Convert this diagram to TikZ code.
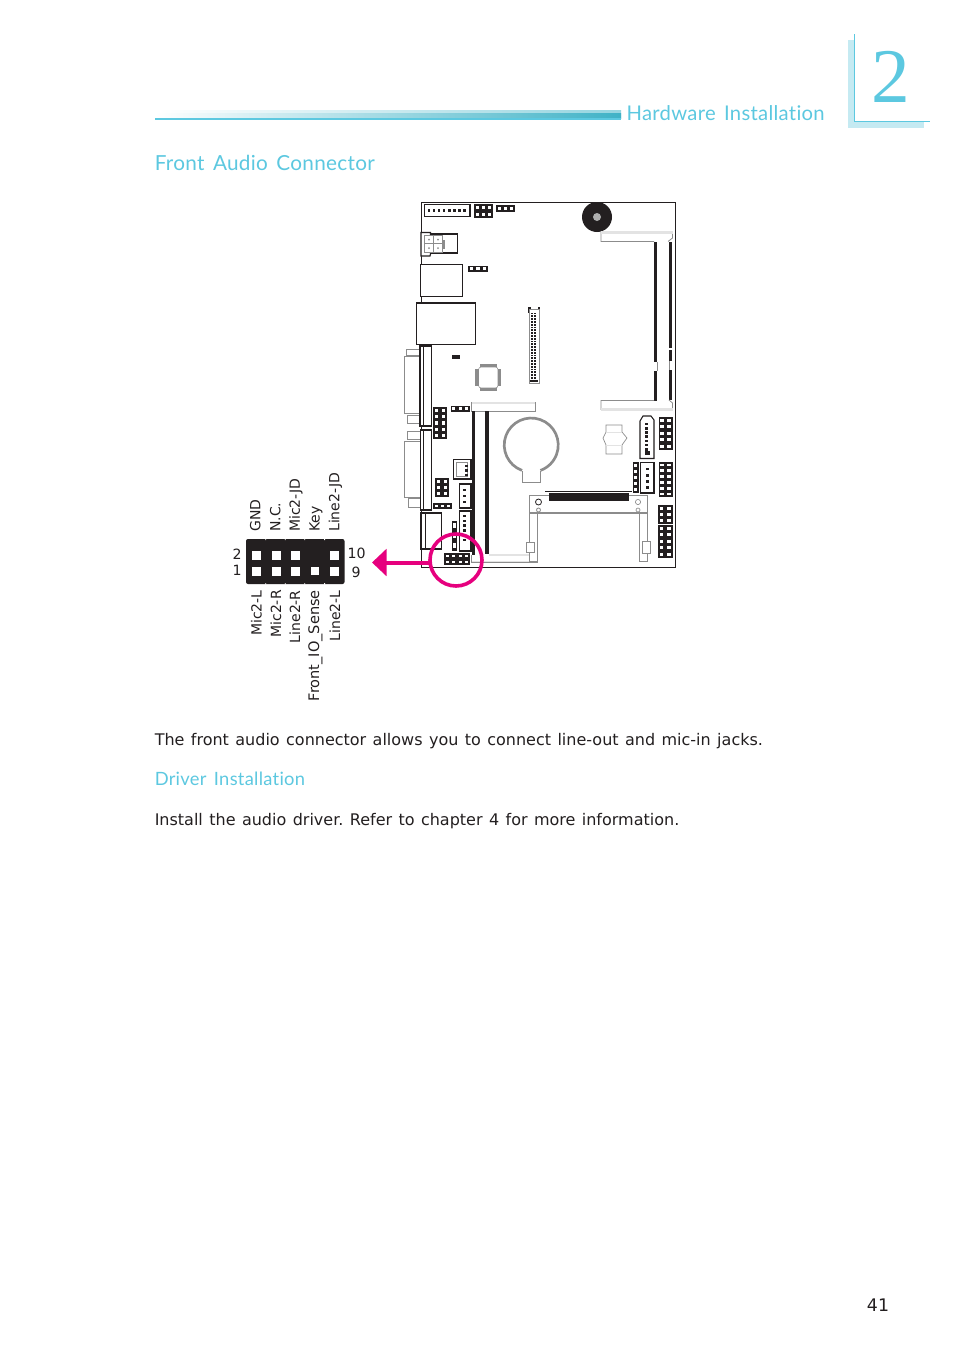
\documentclass[tikz,border=0pt]{standalone}
\usepackage{fontspec}
\setmainfont{DejaVu Sans}
\newfontfamily\headfont[Ligatures=NoCommon,LetterSpace=1.5,WordSpace=1.5]{Lato}
\newfontfamily\numfont{Liberation Serif}
\newfontfamily\bodyfont[WordSpace=1.26]{DejaVu Sans}
\usetikzlibrary{arrows.meta}
\frenchspacing
\definecolor{headc}{HTML}{5CC8E0}
\definecolor{shadec}{HTML}{C5EAF2}
\definecolor{barc}{HTML}{3FB2C6}
\definecolor{pink}{HTML}{E6007E}
\definecolor{ink}{HTML}{231F20}
\definecolor{pale}{HTML}{E3E3E3}
\definecolor{midg}{HTML}{8C8C8C}
\newcommand{\hdr}[6]{% x y w h cols rows
  \fill[ink] (#1,#2) rectangle ++(#3,#4);
  \pgfmathsetmacro{\pw}{#3/#5}\pgfmathsetmacro{\ph}{#4/#6}
  \foreach \ci in {1,...,#5}{\foreach \ri in {1,...,#6}{
    \pgfmathsetmacro{\hx}{#1+(\ci-0.5)*\pw}\pgfmathsetmacro{\hy}{#2+(\ri-0.5)*\ph}
    \fill[white] (\hx-0.24*\pw,\hy-0.24*\ph) rectangle (\hx+0.24*\pw,\hy+0.24*\ph);}}}
\newcommand{\pins}[4]{% x y0 n step
  \foreach \pi in {1,...,#3}{\pgfmathsetmacro{\py}{#2+(\pi-1)*#4}
    \fill[ink] (#1-1.3,\py-1.3) rectangle (#1+1.3,\py+1.3);}}
\tikzset{
  brd/.style={draw=ink,line width=0.9pt,fill=white},
  gbrd/.style={draw=midg,line width=0.6pt,fill=white},
  pbrd/.style={draw=pale,line width=0.9pt,fill=white},
  body/.style={anchor=base west,inner sep=0pt,font=\bodyfont\fontsize{12}{15}\selectfont,text=ink},
  head/.style={anchor=base west,inner sep=0pt,text=headc},
  pinlab/.style={inner sep=0pt,rotate=90,font=\fontsize{10.5}{12}\selectfont,text=ink},
  numlab/.style={inner sep=0pt,font=\fontsize{10.6}{12}\selectfont,text=ink}
}
\begin{document}
\begin{tikzpicture}[x=0.75pt,y=-0.75pt]
\useasboundingbox[fill=white] (0,0) rectangle (954,1354);
% chapter header
\shade[left color=white,right color=barc!55] (155,110) rectangle (621,118);
\shade[left color=white,right color=barc] (155,113) rectangle (621,118);
\fill[headc] (155,118) rectangle (621,120);
\fill[shadec] (848,40) rectangle (854,128);
\fill[shadec] (848,122) rectangle (924,128);
\draw[headc,line width=0.9pt] (854.5,34) -- (854.5,121.5) -- (930,121.5);
\node[inner sep=0pt,anchor=base,text=headc,font=\numfont\fontsize{58}{60}\selectfont] (chapnum) at (890.5,102) {2};
\node[head,font=\headfont\fontsize{15.2}{18}\selectfont] (hw) at (626.3,120) {Hardware Installation};
\node[head,font=\headfont\fontsize{15.55}{18}\selectfont] (fac) at (154.5,170) {Front Audio Connector};
% board outline
\draw[ink,line width=0.8pt] (421.5,567.5) -- (421.5,202.5) -- (675.5,202.5) -- (675.5,567.5) -- cycle;
% top-left connectors
\draw[brd] (424.5,204.5) rectangle (470,216.5);
\foreach \bx in {427.5,432.5,437.5,442.5,448,453,458,463}{\fill[ink] (\bx,208.5) rectangle ++(2.6,3);}
\hdr{474}{204}{18.5}{14}{3}{2}
\hdr{496}{205}{19}{6.5}{3}{1}
\draw[brd] (430,234) rectangle (457.5,253);
\draw[brd,fill=white] (421,232.5) -- (430.5,232.5) -- (430.5,234) -- (430.5,254) -- (430,256) -- (421,256) -- cycle;
\draw[gbrd] (424,235) rectangle (442.5,252);
\draw[gbrd] (424,243.5) -- (442.5,243.5) (433,235) -- (433,252);
\foreach \qx/\qy in {429/239.5,438/239.5,429/248,438/248}{\fill[midg] (\qx,\qy) circle (1);}
\fill[midg] (442,240) rectangle (445,249);
\hdr{468}{265.5}{20}{6}{3}{1}
\draw[brd] (420.8,264.5) rectangle (462.5,296.5);
\draw[brd] (416.5,303) rectangle (475.5,344.5);
% DB connectors
\foreach \ax/\ay/\bx/\by in {406/349/420/355,404.5/356/420/413,407/415/420/423,407/431/420/439,404.5/441/420/497,408.5/498/420/507}{
  \draw[midg,line width=0.5pt,fill=white] (\ax,\ay) rectangle (\bx,\by);}
\draw[brd] (420,346) rectangle (431.5,426);
\draw[ink,line width=0.7pt] (423.5,346) -- (423.5,426);
\draw[brd] (420.5,430) rectangle (431.5,510);
\draw[ink,line width=0.7pt] (423.5,430) -- (423.5,510);
\fill[ink] (452,355) rectangle (460,358.5);
% chip
\fill[midg] (475,369) rectangle (478.5,386);
\fill[midg] (498,369) rectangle (501,386);
\fill[midg] (480,364) rectangle (497,367);
\fill[midg] (480,388) rectangle (497,391);
\draw[midg,line width=0.4pt,rounded corners=2pt] (478.5,367) rectangle (498,388);
% IDE header
\fill[ink] (528,306.5) rectangle (530.5,313);
\fill[ink] (537.5,306.5) rectangle (540,313);
\fill[ink] (528,308.5) rectangle (540,310);
\draw[gbrd] (529,309) rectangle (539,383);
\foreach \ri in {0,...,23}{\pgfmathsetmacro{\iy}{312.5+\ri*2.8}
  \fill[ink] (531,\iy) rectangle ++(1.8,1.8); \fill[ink] (534,\iy) rectangle ++(1.8,1.8);}
\fill[ink] (530,379.5) rectangle (538,381.5);
% lower-left DIMM
\draw[gbrd] (471.5,411.5) -- (471.5,402.5) -- (535.5,402.5) -- (535.5,411.5) -- cycle;
\draw[pale,line width=1pt] (472,403) -- (535,403);
\fill[ink] (472,411) rectangle (475,555);
\fill[ink] (485,411) rectangle (489,554);
\draw[midg,line width=0.5pt] (471.5,554.5) -- (471.5,562.5) -- (537,562.5) -- (537,554);
\draw[pale,line width=1.5pt] (489,554.5) -- (530,554.5);
\draw[pale,line width=1pt] (472,561.5) -- (537,561.5);
% small left headers
\hdr{433}{407}{14}{32}{2}{5}
\hdr{450.5}{406}{19.5}{5.5}{3}{1}
\draw[brd,line width=1pt] (453.5,459.5) rectangle (471,479);
\draw[gbrd] (456,462) rectangle (467,476);
\pins{466.5}{466}{3}{4.5}
\hdr{435}{478}{14}{19}{2}{3}
\draw[brd] (459.5,484) rectangle (471,508);
\pins{464.5}{490}{3}{6}
\hdr{433}{503}{19}{6}{3}{1}
\draw[brd] (421,513) rectangle (441.5,549);
\draw[ink,line width=0.7pt] (425.5,513) -- (425.5,549);
\draw[ink,line width=0.7pt] (421.5,549) -- (421.5,567);
\draw[brd] (459.5,511) rectangle (471,551);
\pins{464.5}{516}{6}{4.8}
\hdr{451.5}{520.5}{5.5}{30.5}{1}{3}
\hdr{444}{553}{26}{12}{4}{2}
% battery
\draw[midg,line width=2pt] (522,470.4) arc[start angle=110,delta angle=320,radius=27];
\draw[midg,line width=0.6pt] (522,470.5) -- (522,482) -- (540,482) -- (540,470.5);
% CF socket
\draw[midg,line width=0.6pt] (529.5,495) rectangle (647.5,513);
\draw[ink,line width=0.6pt] (545,491) -- (632,491);
\fill[ink] (548.5,492.5) rectangle (629,501);
\draw[midg,line width=1.2pt] (530,513) -- (647,513);
\draw[midg,line width=0.6pt] (529.5,513) -- (529.5,561) -- (537.5,561) -- (537.5,513);
\draw[midg,line width=0.6pt] (639,513) -- (639,561) -- (647.5,561) -- (647.5,513);
\draw[ink,line width=0.6pt] (538.5,502) circle (3);
\draw[midg,line width=0.6pt] (538.5,510) circle (2);
\draw[midg,line width=0.5pt] (638,502) circle (2.6);
\draw[midg,line width=0.5pt] (638,510) circle (2);
\draw[midg,line width=0.6pt,fill=white] (526.5,542) rectangle (534,552.5);
\draw[midg,line width=0.6pt,fill=white] (642.5,541.5) rectangle (650.5,553.5);
% top-right: buzzer and DIMM
\fill[ink] (597,217) circle (15);
\fill[midg!70] (597,217) circle (4);
\draw[midg,line width=0.6pt] (601,232) -- (601,241.5) -- (654,241.5) (668,241.5) -- (672.5,238) -- (672.5,232);
\draw[pale,line width=1.6pt] (601,232.5) -- (672.5,232.5);
\fill[ink] (654,242) rectangle (657,362);
\fill[ink] (654,371) rectangle (657,401);
\fill[ink] (669,242) rectangle (672,348);
\fill[ink] (669,349.5) rectangle (672,361);
\fill[ink] (669,370) rectangle (672,400);
\draw[midg,line width=0.5pt] (657,362) -- (657,371) (669,361) -- (669,370);
\draw[midg,line width=0.6pt] (654,400.5) -- (601,400.5) -- (601,409.5) -- (672.5,409.5) -- (672.5,403) -- (669,400);
\draw[pale,line width=1.6pt] (601,409.5) -- (672.5,409.5);
% right-hand connectors
\draw[midg,line width=0.5pt] (606,425) -- (622,425) -- (622,432) -- (627,438) -- (622,445) -- (622,454) -- (606,454) -- (606,445) -- (603,438) -- (606,432) -- cycle;
\draw[pale,line width=0.6pt] (606,432) -- (622,432) (606,445) -- (622,445);
\draw[ink,line width=0.8pt,fill=white] (640,421) -- (643,416) -- (651,416) -- (654,420) -- (654,458.5) -- (640,458.5) -- cycle;
\pins{646.5}{424}{7}{4.2}
\fill[ink] (645,451) rectangle (650,455);
\hdr{658.5}{417}{14}{32.5}{2}{5}
\hdr{632.5}{462}{6.5}{31}{1}{5}
\draw[ink,line width=1pt,fill=white] (640.5,462.5) rectangle (654,493);
\pins{647.5}{469}{4}{6.2}
\hdr{658.5}{462}{14}{35}{2}{6}
\hdr{658}{505}{14.5}{19}{2}{3}
\hdr{658}{525}{14.5}{32.5}{2}{5}
% pink marker
\draw[pink,line width=2.7pt] (456,560) circle (26);
\coordinate (mk) at (430,562.5);
\coordinate (tipc) at (372,562.5);
\draw[pink,line width=3pt,-{Triangle[length=14.5pt*0.75,width=26.5pt*0.75]}] (mk) -- (tipc);
% pin block
\fill[ink,rounded corners=1.5pt] (246,539) rectangle (344.5,584);
\foreach \hx in {256.7,276,295.6,334.5}{\fill[white] (\hx-4.5,550.5) rectangle (\hx+4.5,559.5);}
\foreach \hx in {256.7,276,295.6,334.5}{\fill[white] (\hx-4.5,566.5) rectangle (\hx+4.5,575.5);}
\fill[white] (310.7,566.8) rectangle (319,575.2);
\foreach \nx in {265.8,285.3,304.8,324.6}{\fill[white] (\nx-0.4,538.5) rectangle (\nx+0.4,540) (\nx-0.4,583) rectangle (\nx+0.4,584.5);}
% pin labels
\node[pinlab,anchor=west] (gnd) at (255.3,532) {GND};
\node[pinlab,anchor=west] (nc) at (275.3,532) {N.C.};
\node[pinlab,anchor=west] (mjd) at (296,532) {Mic2-JD};
\node[pinlab,anchor=west] (key) at (316,532) {Key};
\node[pinlab,anchor=west] (ljd) at (335.5,532) {Line2-JD};
\node[pinlab,anchor=east] (ml) at (256.3,590) {Mic2-L};
\node[pinlab,anchor=east] (mr) at (275.8,590) {Mic2-R};
\node[pinlab,anchor=east] (lr) at (295,590) {Line2-R};
\node[pinlab,anchor=east,font=\fontsize{10.9}{12}\selectfont] (fs) at (315.5,590) {Front\_IO\_Sense};
\node[pinlab,anchor=east] (ll) at (335,590) {Line2-L};
\node[numlab] (n2) at (237,554) {2};
\node[numlab] (n1) at (237,570.5) {1};
\node[numlab] (n10) at (356.5,553.5) {10};
\node[numlab] (n9) at (356,572) {9};
% text
\node[body] (t1) at (154.5,745) {The front audio connector allows you to connect line-out and mic-in jacks.};
\node[head,font=\headfont\fontsize{13.75}{17}\selectfont] (drv) at (154.5,785) {Driver Installation};
\node[body] (t2) at (154.5,825) {Install the audio driver. Refer to chapter 4 for more information.};
\node[inner sep=0pt,font=\fontsize{13}{15}\selectfont,text=ink] (pg) at (878,1305) {41};
\end{tikzpicture}
\end{document}
